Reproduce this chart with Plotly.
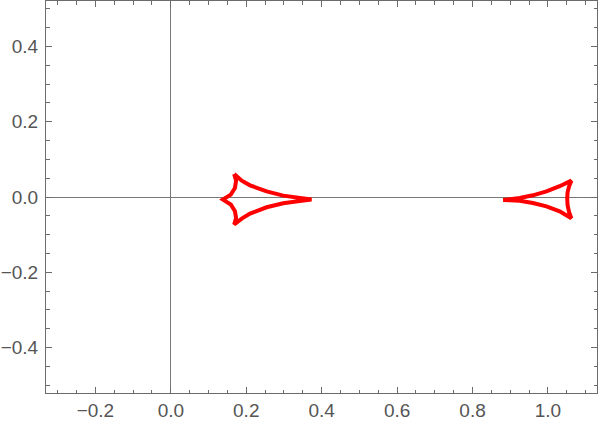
import plotly.graph_objects as go

# central caustic (closed curve)
central_x = [0.168, 0.188, 0.210, 0.254, 0.298, 0.342, 0.373,
             0.342, 0.298, 0.254, 0.210, 0.188, 0.168,
             0.173, 0.170, 0.159, 0.138,
             0.159, 0.170, 0.173, 0.168]
central_y = [0.061, 0.0435, 0.031, 0.0151, 0.0037, -0.0034, -0.0069,
             -0.0106, -0.0167, -0.0273, -0.044, -0.0573, -0.0732,
             -0.0557, -0.038, -0.020, -0.0069,
             0.0064, 0.0239, 0.0435, 0.061]

# planetary caustic (closed curve)
planet_x = [0.881, 0.925, 0.960, 0.996, 1.031, 1.062,
            1.056, 1.052, 1.051, 1.052, 1.056, 1.062,
            1.031, 0.996, 0.960, 0.925, 0.899, 0.881]
planet_y = [-0.0082, -0.0027, 0.0045, 0.0151, 0.0286, 0.0435,
            0.0284, 0.0125, -0.0034, -0.022, -0.0406, -0.0565,
            -0.0379, -0.0247, -0.0159, -0.0101, -0.0088, -0.0082]

x_range = [-0.331, 1.130]
y_range = [-0.521, 0.521]

frame = "#6b6b6b"
txt = "#555555"

fig = go.Figure()
for xs, ys in [(central_x, central_y), (planet_x, planet_y)]:
    fig.add_trace(go.Scatter(x=xs, y=ys, mode="lines",
                             line=dict(color="#ff0000", width=4),
                             hoverinfo="skip", showlegend=False))

axis_style = dict(
    showgrid=False, zeroline=True, zerolinecolor="#777777", zerolinewidth=1,
    showline=True, linecolor=frame, linewidth=1, mirror="allticks",
    ticks="inside", ticklen=6, tickwidth=1, tickcolor=frame,
    dtick=0.2, tick0=0, tickformat=".1f", automargin=False,
    tickfont=dict(family="Liberation Sans, Arial, sans-serif", size=19, color=txt),
    minor=dict(ticks="inside", ticklen=3.5, tickcolor=frame, dtick=0.05, tick0=0, showgrid=False),
)

fig.update_xaxes(range=x_range, ticklabelstandoff=0, **axis_style)
fig.update_yaxes(range=y_range, ticklabelstandoff=3, **axis_style)

fig.update_layout(
    width=600, height=425,
    margin=dict(l=46, r=3, t=1, b=32),
    plot_bgcolor="white", paper_bgcolor="white",
)
# drop the default page margin so the figure sits at the window's corner
fig.write_html("out.html", config={"displayModeBar": False},
               post_script="document.body.style.margin='0';document.body.style.overflow='hidden';")
